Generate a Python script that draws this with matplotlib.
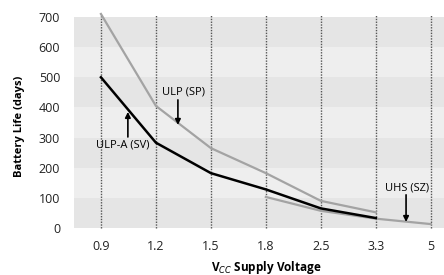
import numpy as np
import matplotlib.pyplot as plt

# data
voltages = ['0.9', '1.2', '1.5', '1.8', '2.5', '3.3', '5']
ulp_sp = [710, 405, 265, 182, 90, 52]           # 0.9 .. 3.3
ulp_a_sv = [500, 283, 182, 128, 65, 33]         # 0.9 .. 3.3
uhs_sz = [103, 57, 31, 13]                      # 1.8 .. 5
yticks = [0, 100, 200, 300, 400, 500, 600, 700]

plt.rcParams['font.family'] = ['Open Sans', 'DejaVu Sans']

fig = plt.figure(figsize=(4.44, 2.75), dpi=100)
ax = fig.add_axes([74/444, 1-228/275, 1-74/444, (228-17)/275])

x = np.arange(len(voltages))

# alternating horizontal bands
for i in range(len(yticks)-1):
    col = '#e5e5e5' if i % 2 == 0 else '#eeeeee'
    ax.axhspan(yticks[i], yticks[i+1], color=col, lw=0, zorder=0)

# dotted vertical grid at each voltage
for xi in x:
    ax.plot([xi, xi], [0, 707], ls=(0, (1, 1)), color='#555555', lw=1.0,
            zorder=1, clip_on=False)

ax.plot(x[:len(ulp_sp)], ulp_sp, color='#a3a3a3', lw=1.6, zorder=3, clip_on=False)
ax.plot(x[3:], uhs_sz, color='#a3a3a3', lw=1.6, zorder=3, clip_on=False)
ax.plot(x[:len(ulp_a_sv)], ulp_a_sv, color='black', lw=1.8, zorder=4, clip_on=False)

ax.set_xlim(-0.49, 6.24)
ax.set_ylim(0, 700)
ax.set_xticks(x)
ax.set_xticklabels(voltages)
ax.set_yticks(yticks)
ax.tick_params(length=0, labelsize=9, pad=9, labelcolor='#222222')
ax.tick_params(axis='y', pad=10)
for s in ax.spines.values():
    s.set_visible(False)

# annotations
arrow = dict(arrowstyle='-|>', color='black', lw=1.2, mutation_scale=8,
             shrinkA=0, shrinkB=0)
ax.annotate('', xy=(1.40, 342), xytext=(1.40, 425), arrowprops=arrow)
ax.text(1.50, 452, 'ULP (SP)', fontsize=8, ha='center', va='center')
ax.annotate('', xy=(0.49, 385), xytext=(0.49, 302), arrowprops=arrow)
ax.text(0.40, 276, 'ULP-A (SV)', fontsize=8, ha='center', va='center')
ax.annotate('', xy=(5.55, 20), xytext=(5.55, 110), arrowprops=arrow)
ax.text(5.56, 133, 'UHS (SZ)', fontsize=8, ha='center', va='center')

fig.text(266/444, 1-268/275, r'V$_{CC}$ Supply Voltage', fontsize=8.5,
         fontweight='bold', ha='center', va='center')
fig.text(20/444, 1-126/275, 'Battery Life (days)', fontsize=8,
         fontweight='bold', ha='center', va='center', rotation=90)

fig.savefig('out.png', dpi=100)
